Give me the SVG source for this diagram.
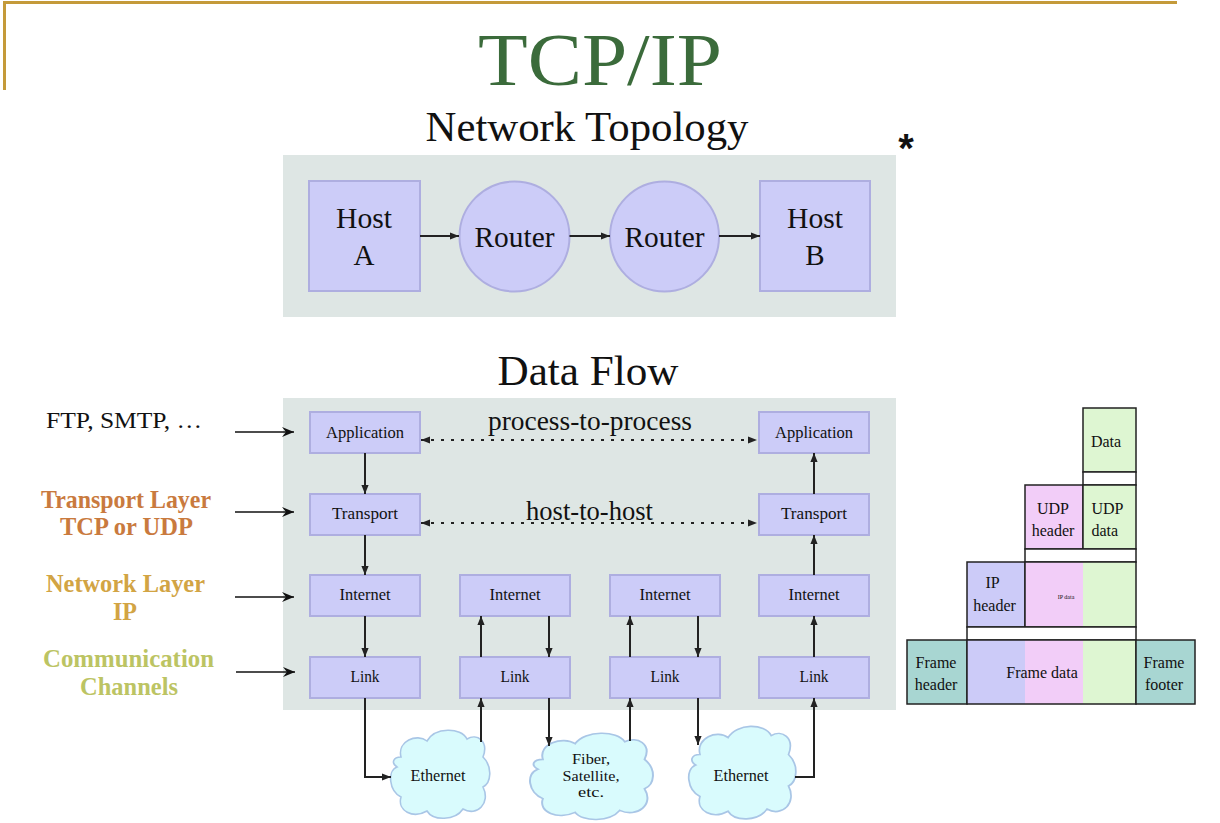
<svg xmlns="http://www.w3.org/2000/svg" xmlns:xlink="http://www.w3.org/1999/xlink" width="1220" height="823" viewBox="0 0 1220 823">
<style>
text{font-family:"Liberation Serif","Times New Roman",serif;fill:#111}
.box{fill:#ccccf8;stroke:#aeaee0;stroke-width:2}
.panel{fill:#dee6e4}
.cloud{fill:#d9fbfd;stroke:#a9c6e6;stroke-width:1.6}
.ln{fill:none;stroke:#222;stroke-width:2}
.dot{fill:none;stroke:#222;stroke-width:2;stroke-dasharray:3 7}
.lbl{fill:none;stroke:#111;stroke-width:1.6}
.pk{stroke:#222;stroke-width:1.5}
.gr{fill:#def6d2}.pi{fill:#f2cdf8}.la{fill:#cccbf8}.te{fill:#a8d6d2}.wh{fill:#fff}
.bt{font-size:17px;text-anchor:middle}
.ct{font-size:14px;text-anchor:middle}
.pt{font-size:16px;text-anchor:middle}
.side{font-weight:bold;font-size:26px;text-anchor:middle}
</style>
<defs>
<marker id="ah" viewBox="0 0 10 10" refX="10" refY="5" markerWidth="9" markerHeight="9" markerUnits="userSpaceOnUse" orient="auto-start-reverse"><path d="M0,1 L10,5 L0,9 Z" fill="#222"/></marker>
<marker id="sa" viewBox="0 0 12 10" refX="12" refY="5" markerWidth="13" markerHeight="10" markerUnits="userSpaceOnUse" orient="auto"><path d="M0,0 L12,5 L0,10 L4,5 Z" fill="#111"/></marker>
<path id="cl" d="M12,30 C8,14 28,6 38,14 C46,0 72,0 78,12 C88,6 100,14 94,30 C104,40 102,56 94,60 C102,76 88,90 74,82 C66,94 44,94 38,84 C24,92 8,84 12,70 C0,64 -2,44 8,40 C2,36 4,30 12,30 Z"/>
</defs>
<rect width="1220" height="823" fill="#fff"/>
<g id="border" fill="#c49a3a">
<rect x="3" y="1" width="1174" height="3"/>
<rect x="3" y="1" width="3" height="89"/>
</g>
<g id="title">
<text x="600" y="85" font-size="74" text-anchor="middle" textLength="244" lengthAdjust="spacingAndGlyphs" style="fill:#3b6b3b">TCP/IP</text>
<text x="587" y="141" font-size="42" text-anchor="middle" textLength="323" lengthAdjust="spacingAndGlyphs">Network Topology</text>
<text x="906" y="162" font-size="40" text-anchor="middle" style="font-family:'Liberation Sans',Arial,sans-serif;font-weight:bold">*</text>
<text x="588" y="385" font-size="43" text-anchor="middle" textLength="181" lengthAdjust="spacingAndGlyphs">Data Flow</text>
</g>
<g id="topology-panel"><rect class="panel" x="283" y="155" width="613" height="162"/></g>
<g id="host-a"><rect class="box" x="309" y="181" width="111" height="110"/><text x="364" y="228" font-size="29" text-anchor="middle" textLength="56" lengthAdjust="spacingAndGlyphs">Host</text><text x="364" y="265" font-size="29" text-anchor="middle">A</text></g>
<g id="router-1"><ellipse class="box" cx="514.5" cy="236.5" rx="55" ry="55"/><text x="514.5" y="246.5" font-size="29" text-anchor="middle" textLength="80" lengthAdjust="spacingAndGlyphs">Router</text></g>
<g id="router-2"><ellipse class="box" cx="664.5" cy="236.5" rx="54.5" ry="55"/><text x="664.5" y="246.5" font-size="29" text-anchor="middle" textLength="80" lengthAdjust="spacingAndGlyphs">Router</text></g>
<g id="host-b"><rect class="box" x="760" y="181" width="110" height="110"/><text x="815" y="228" font-size="29" text-anchor="middle" textLength="56" lengthAdjust="spacingAndGlyphs">Host</text><text x="815" y="265" font-size="29" text-anchor="middle">B</text></g>

<g id="dataflow-panel"><rect class="panel" x="283" y="398" width="613" height="312"/></g>
<g id="labels">
<text x="124" y="428" font-size="24" text-anchor="middle" textLength="156" lengthAdjust="spacingAndGlyphs">FTP, SMTP, …</text>
<text class="side" x="126" y="508" textLength="170" lengthAdjust="spacingAndGlyphs" style="fill:#c97a3e">Transport Layer</text>
<text class="side" x="126.5" y="535" textLength="133" lengthAdjust="spacingAndGlyphs" style="fill:#c97a3e">TCP or UDP</text>
<text class="side" x="125.5" y="592" textLength="159" lengthAdjust="spacingAndGlyphs" style="fill:#d2a444">Network Layer</text>
<text class="side" x="125" y="620" textLength="24" lengthAdjust="spacingAndGlyphs" style="fill:#d2a444">IP</text>
<text class="side" x="128.5" y="667" textLength="171" lengthAdjust="spacingAndGlyphs" style="fill:#bcc463">Communication</text>
<text class="side" x="129" y="695" textLength="98" lengthAdjust="spacingAndGlyphs" style="fill:#bcc463">Channels</text>
<text x="590" y="430" font-size="26.5" text-anchor="middle" textLength="204" lengthAdjust="spacingAndGlyphs">process-to-process</text>
<text x="589.5" y="520" font-size="26.5" text-anchor="middle" textLength="127" lengthAdjust="spacingAndGlyphs">host-to-host</text>
</g>
<g id="app-1"><rect class="box" x="310" y="412" width="110" height="41"/><text class="bt" x="365" y="438" textLength="78" lengthAdjust="spacingAndGlyphs">Application</text></g>
<g id="transport-1"><rect class="box" x="310" y="494" width="110" height="41"/><text class="bt" x="365" y="519" textLength="66" lengthAdjust="spacingAndGlyphs">Transport</text></g>
<g id="internet-1"><rect class="box" x="310" y="575" width="110" height="41"/><text class="bt" x="365" y="600" textLength="51" lengthAdjust="spacingAndGlyphs">Internet</text></g>
<g id="link-1"><rect class="box" x="310" y="657" width="110" height="41"/><text class="bt" x="365" y="682" textLength="29" lengthAdjust="spacingAndGlyphs">Link</text></g>
<g id="internet-2"><rect class="box" x="460" y="575" width="110" height="41"/><text class="bt" x="515" y="600" textLength="51" lengthAdjust="spacingAndGlyphs">Internet</text></g>
<g id="link-2"><rect class="box" x="460" y="657" width="110" height="41"/><text class="bt" x="515" y="682" textLength="29" lengthAdjust="spacingAndGlyphs">Link</text></g>
<g id="internet-3"><rect class="box" x="610" y="575" width="110" height="41"/><text class="bt" x="665" y="600" textLength="51" lengthAdjust="spacingAndGlyphs">Internet</text></g>
<g id="link-3"><rect class="box" x="610" y="657" width="110" height="41"/><text class="bt" x="665" y="682" textLength="29" lengthAdjust="spacingAndGlyphs">Link</text></g>
<g id="app-4"><rect class="box" x="759" y="412" width="110" height="41"/><text class="bt" x="814" y="438" textLength="78" lengthAdjust="spacingAndGlyphs">Application</text></g>
<g id="transport-4"><rect class="box" x="759" y="494" width="110" height="41"/><text class="bt" x="814" y="519" textLength="66" lengthAdjust="spacingAndGlyphs">Transport</text></g>
<g id="internet-4"><rect class="box" x="759" y="575" width="110" height="41"/><text class="bt" x="814" y="600" textLength="51" lengthAdjust="spacingAndGlyphs">Internet</text></g>
<g id="link-4"><rect class="box" x="759" y="657" width="110" height="41"/><text class="bt" x="814" y="682" textLength="29" lengthAdjust="spacingAndGlyphs">Link</text></g>

<g id="cloud-ethernet-1"><use xlink:href="#cl" href="#cl" class="cloud" transform="translate(389,727)"/><text class="bt" x="438" y="781" textLength="55" lengthAdjust="spacingAndGlyphs">Ethernet</text></g>
<g id="cloud-fiber"><use xlink:href="#cl" href="#cl" class="cloud" transform="translate(528,730) scale(1.24,0.98)"/><text class="ct" x="591" y="764" textLength="38" lengthAdjust="spacingAndGlyphs">Fiber,</text><text class="ct" x="591" y="781" textLength="57" lengthAdjust="spacingAndGlyphs">Satellite,</text><text class="ct" x="591" y="797" textLength="26" lengthAdjust="spacingAndGlyphs">etc.</text></g>
<g id="cloud-ethernet-2"><use xlink:href="#cl" href="#cl" class="cloud" transform="translate(687,723) scale(1.08,1.05)"/><text class="bt" x="741" y="781" textLength="55" lengthAdjust="spacingAndGlyphs">Ethernet</text></g>

<g id="packet">
<rect class="pk gr" x="1083" y="408" width="53" height="64"/>
<rect class="pk wh" x="1083" y="472" width="53" height="13"/>
<rect class="pk pi" x="1025" y="485" width="58" height="64"/>
<rect class="pk gr" x="1083" y="485" width="53" height="64"/>
<rect class="pk wh" x="1025" y="549" width="111" height="13"/>
<rect class="pk la" x="967" y="562" width="58" height="65"/>
<rect class="pi" x="1025" y="562" width="58" height="65"/>
<rect class="gr" x="1083" y="562" width="53" height="65"/>
<rect class="pk" fill="none" x="1025" y="562" width="111" height="65"/>
<rect class="pk wh" x="967" y="627" width="169" height="13"/>
<rect class="pk te" x="907" y="640" width="60" height="64"/>
<rect class="la" x="967" y="640" width="58" height="64"/>
<rect class="pi" x="1025" y="640" width="58" height="64"/>
<rect class="gr" x="1083" y="640" width="53" height="64"/>
<rect class="pk" fill="none" x="967" y="640" width="169" height="64"/>
<rect class="pk te" x="1136" y="640" width="59" height="64"/>
<text class="pt" x="1106" y="447">Data</text>
<text class="pt" x="1053" y="514">UDP</text>
<text class="pt" x="1053" y="536">header</text>
<text class="pt" x="1091.5" y="514" style="text-anchor:start">UDP</text>
<text class="pt" x="1091.5" y="536" style="text-anchor:start">data</text>
<text class="pt" x="992.5" y="588">IP</text>
<text class="pt" x="994.5" y="611">header</text>
<text x="1066" y="599" font-size="6" text-anchor="middle">IP data</text>
<text class="pt" x="936" y="668">Frame</text>
<text class="pt" x="936" y="690">header</text>
<text class="pt" x="1042" y="678">Frame data</text>
<text class="pt" x="1164" y="668">Frame</text>
<text class="pt" x="1164" y="690">footer</text>
</g>

<g id="connectors">
<line class="ln" x1="420" y1="236" x2="459" y2="236" marker-end="url(#ah)"/>
<line class="ln" x1="569.5" y1="236" x2="610" y2="236" marker-end="url(#ah)"/>
<line class="ln" x1="719" y1="236" x2="760" y2="236" marker-end="url(#ah)"/>
<line class="lbl" x1="235" y1="432" x2="294" y2="432" marker-end="url(#sa)"/>
<line class="lbl" x1="235" y1="512" x2="294" y2="512" marker-end="url(#sa)"/>
<line class="lbl" x1="235" y1="597" x2="294" y2="597" marker-end="url(#sa)"/>
<line class="lbl" x1="236" y1="672" x2="295" y2="672" marker-end="url(#sa)"/>
<line class="dot" x1="421" y1="440" x2="757" y2="440" marker-start="url(#ah)" marker-end="url(#ah)"/>
<line class="dot" x1="421" y1="523" x2="757" y2="523" marker-start="url(#ah)" marker-end="url(#ah)"/>
<line class="ln" x1="365" y1="453" x2="365" y2="494" marker-end="url(#ah)"/>
<line class="ln" x1="365" y1="535" x2="365" y2="575" marker-end="url(#ah)"/>
<line class="ln" x1="365" y1="616" x2="365" y2="657" marker-end="url(#ah)"/>
<line class="ln" x1="814" y1="494" x2="814" y2="453" marker-end="url(#ah)"/>
<line class="ln" x1="814" y1="575" x2="814" y2="535" marker-end="url(#ah)"/>
<line class="ln" x1="814" y1="657" x2="814" y2="616" marker-end="url(#ah)"/>
<line class="ln" x1="481" y1="657" x2="481" y2="616" marker-end="url(#ah)"/>
<line class="ln" x1="549" y1="616" x2="549" y2="657" marker-end="url(#ah)"/>
<line class="ln" x1="630" y1="657" x2="630" y2="616" marker-end="url(#ah)"/>
<line class="ln" x1="698" y1="616" x2="698" y2="657" marker-end="url(#ah)"/>
<polyline class="ln" points="365,698 365,777 391,777" marker-end="url(#ah)"/>
<line class="ln" x1="481" y1="742" x2="481" y2="698" marker-end="url(#ah)"/>
<line class="ln" x1="549" y1="698" x2="549" y2="746" marker-end="url(#ah)"/>
<line class="ln" x1="630" y1="741" x2="630" y2="698" marker-end="url(#ah)"/>
<line class="ln" x1="698" y1="698" x2="698" y2="745" marker-end="url(#ah)"/>
<polyline class="ln" points="795,777 814,777 814,698" marker-end="url(#ah)"/>
</g>
</svg>
